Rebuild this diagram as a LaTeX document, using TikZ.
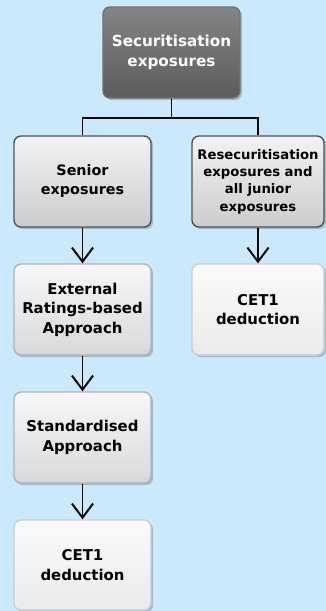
\documentclass[tikz,border=0pt]{standalone}
\usepackage{fontspec}
\setmainfont{DejaVu Sans}
\usetikzlibrary{arrows.meta}
\usetikzlibrary{shadows}

\definecolor{bgblue}{HTML}{CBE9FC}
\definecolor{shadowblue}{HTML}{8FA9BB}

\begin{document}
\begin{tikzpicture}[x=0.025cm, y=-0.025cm,
  box/.style={rounded corners=5pt, minimum width=3.425cm, minimum height=2.275cm,
    align=center, inner sep=2pt, line width=1pt,
    font=\bfseries\fontsize{10.6}{13.8}\selectfont,
    drop shadow={shadow xshift=1.5pt, shadow yshift=-1.5pt, fill=shadowblue, opacity=0.7}},
  darkbox/.style={box, draw=black!55, top color=black!48, bottom color=black!64, text=white,
    font=\bfseries\fontsize{10.8}{14.2}\selectfont},
  midbox/.style={box, draw=black!68, top color=black!5, bottom color=black!20},
  lightbox/.style={box, draw=black!30, top color=black!3, bottom color=black!15},
  palebox/.style={box, draw=black!20, top color=black!2, bottom color=black!8},
  link/.style={line width=1.4pt},
  arr/.style={line width=1.4pt, -{Straight Barb[length=10pt, width=15pt]}}]

\fill[bgblue] (0,0) rectangle (326,611);
\useasboundingbox (0,0) rectangle (326,611);

\node[darkbox] (secur) at (171.5,52.5) {Securitisation\\exposures};

\node[midbox, font=\bfseries\fontsize{10.2}{13.5}\selectfont] (senior) at (82.5,181.5) {Senior\\exposures};
\node[midbox, minimum width=3.3cm, font=\bfseries\fontsize{9.4}{12.3}\selectfont] (resec) at (258,181.5) {Resecuritisation\\exposures and\\all junior\\exposures};

\node[lightbox] (erba) at (82.5,309.5) {External\\Ratings-based\\Approach};
\node[palebox, minimum width=3.3cm] (cetright) at (258,309.5) {CET1\\deduction};

\node[lightbox] (sa) at (82.5,437.5) {Standardised\\Approach};
\node[palebox, minimum height=2.25cm] (cetleft) at (82.5,565) {CET1\\deduction};

%tree
\draw[link] (secur.south) -- ++(0,19) coordinate (split);
\draw[link] (senior.north) |- (split) -| (resec.north);

\draw[arr] (senior) -- (erba);
\draw[arr] (resec) -- (cetright);
\draw[arr] (erba) -- (sa);
\draw[arr] (sa) -- (cetleft);

\end{tikzpicture}
\end{document}
